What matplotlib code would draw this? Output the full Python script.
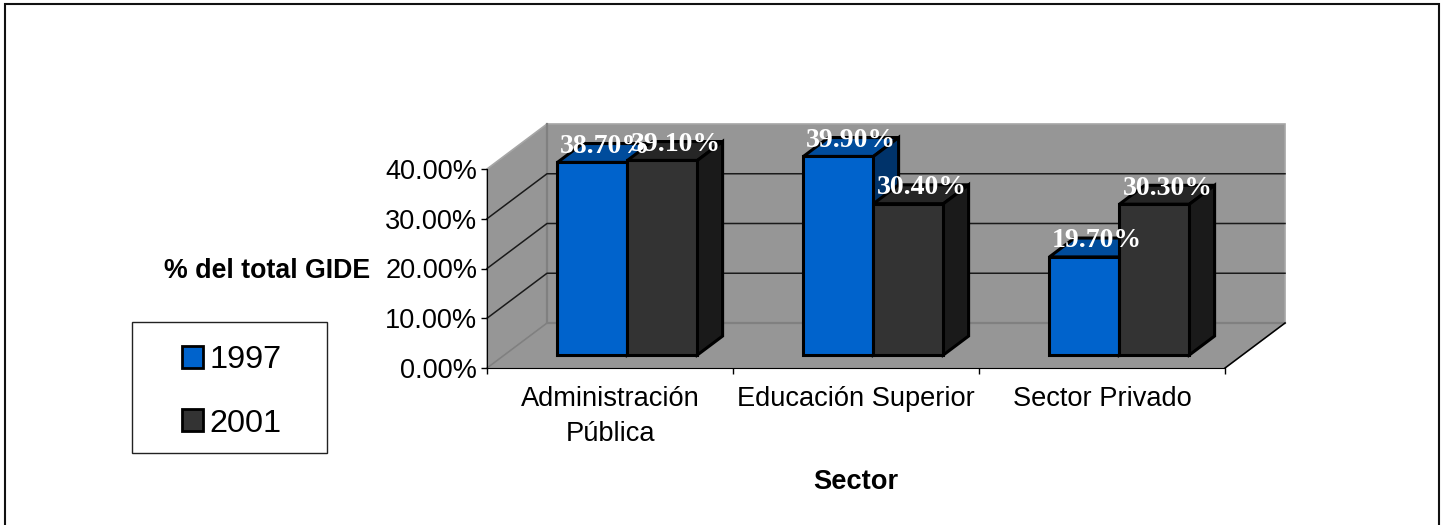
"""Grouped pseudo-3D bar chart of GIDE share by sector."""

import matplotlib

matplotlib.use("Agg", force=True)
import matplotlib.pyplot as plt
from matplotlib.patches import Patch, Polygon, Rectangle

categories = ["Administración\nPública", "Educación Superior", "Sector Privado"]
years = ["1997", "2001"]
values_1997 = [38.7, 39.9, 19.7]
values_2001 = [39.1, 30.4, 30.3]
y_ticks = [0, 10, 20, 30, 40]

FRONT = ["#0063CC", "#333333"]
TOP = ["#004C9C", "#262626"]
SIDE = ["#00336A", "#1A1A1A"]
WALL = "#969696"
WALL_EDGE = "#808080"

W, H = 1445, 525
X0, X1, Y0, Y1 = 487, 1225, 368, 169
# depth of the box, in data units
DX = 60 / 246
DY = 45 / 4.975
BAR_W = 70 / 246
T0, T1 = 0.29, 0.71

plt.rcParams["font.family"] = ["Liberation Sans", "DejaVu Sans"]

fig = plt.figure(figsize=(W / 100, H / 100), dpi=100)
# the outer frame runs off the bottom of the picture
fig.patches.append(Rectangle((5 / W, -10 / H), 1434 / W, (10 + H - 4) / H,
                             transform=fig.transFigure, fill=False, ec="#111111", lw=1.5))
ax = fig.add_axes([X0 / W, 1 - Y0 / H, (X1 - X0) / W, (Y0 - Y1) / H])
ax.set_xlim(0, 3)
ax.set_ylim(0, 40)
ax.patch.set_visible(False)


def p(x, v, t):
    return (x + t * DX, v + t * DY)


def poly(points, fc, ec, lw, z):
    ax.add_patch(Polygon(points, closed=True, fc=fc, ec=ec, lw=lw, zorder=z,
                         clip_on=False, joinstyle="miter"))


# walls and floor
poly([p(0, 0, 1), p(3, 0, 1), p(3, 40, 1), p(0, 40, 1)], WALL, "#A6A6A6", 1.2, 1)
poly([p(0, 0, 0), p(0, 0, 1), p(0, 40, 1), p(0, 40, 0)], WALL, "#A6A6A6", 1.2, 1)
poly([p(0, 0, 0), p(3, 0, 0), p(3, 0, 1), p(0, 0, 1)], WALL, WALL, 1.2, 1)
xs, ys = zip(p(0, 40, 1), p(0, 0, 1), p(3, 0, 1))
ax.plot(xs, ys, color=WALL_EDGE, lw=1.6, zorder=1.5, clip_on=False)
xs, ys = zip(p(0, 0, 0), p(0, 0, 1))
ax.plot(xs, ys, color=WALL_EDGE, lw=1.2, zorder=1.5, clip_on=False)
for v in y_ticks[1:-1]:
    xs, ys = zip(p(0, v, 0), p(0, v, 1), p(3, v, 1))
    ax.plot(xs, ys, color="#1A1A1A", lw=1.1, zorder=2, clip_on=False)
xs, ys = zip(p(3, 0, 0), p(3, 0, 1))
ax.plot(xs, ys, color="black", lw=1.1, zorder=2, clip_on=False)

# bars, left to right so that later faces cover earlier ones
z = 3
for i in range(len(categories)):
    for s, vals in enumerate([values_1997, values_2001]):
        v = vals[i]
        left = i + 0.5 + (s - 1) * BAR_W
        right = left + BAR_W
        poly([p(left, v, T0), p(right, v, T0), p(right, v, T1), p(left, v, T1)], TOP[s], "black", 2.2, z)
        poly([p(right, 0, T0), p(right, 0, T1), p(right, v, T1), p(right, v, T0)], SIDE[s], "black", 2.2, z)
        ax.bar(left + T0 * DX, v, BAR_W, bottom=T0 * DY, align="edge", color=FRONT[s],
               edgecolor="black", linewidth=2.2, zorder=z, clip_on=False)
        z += 1

# value labels sit above everything
for s, vals in enumerate([values_1997, values_2001]):
    for i, v in enumerate(vals):
        cx = i + 0.5 + (s - 0.5) * BAR_W + (0.004 if s else 0)
        x, y = p(cx, v, 0.5)
        ax.text(x, y, f"{v:.2f}%", ha="center", va="baseline", color="white", fontsize=20,
                fontweight="bold", family=["Liberation Serif"], zorder=50, clip_on=False)

ax.spines["top"].set_visible(False)
ax.spines["right"].set_visible(False)
ax.spines["left"].set_zorder(2.5)
ax.spines["bottom"].set_zorder(2.5)
ax.set_yticks(y_ticks)
ax.set_yticklabels([f"{v:.2f}%" for v in y_ticks])
ax.set_xticks(range(4))
ax.set_xticklabels([])
ax.set_xticks([i + 0.5 for i in range(3)], labels=categories, minor=True)
ax.tick_params(axis="x", which="major", length=4, width=1)
ax.tick_params(axis="x", which="minor", length=0, pad=13, labelsize=19.6)
ax.tick_params(axis="y", length=4, width=1, pad=3, labelsize=19.5)
for lab in ax.get_xticklabels(minor=True):
    lab.set_linespacing(1.44)

ax.set_ylabel("% del total GIDE", rotation=0, ha="center", va="center", fontsize=19.3, fontweight="bold")
ax.yaxis.set_label_coords((267 - X0) / (X1 - X0), (Y0 - 271.5) / (Y0 - Y1))
ax.set_xlabel("Sector", fontsize=19.6, fontweight="bold")
ax.xaxis.set_label_coords(0.5, (Y0 - 482) / (Y0 - Y1), transform=ax.transAxes)
ax.xaxis.label.set_va("center")

fig.patches.append(Rectangle((132 / W, 1 - 453 / H), 195 / W, 131 / H, transform=fig.transFigure,
                             fc="white", ec="#222222", lw=1))
handles = [Patch(fc=FRONT[0], ec="black", lw=2), Patch(fc=FRONT[1], ec="black", lw=2)]
fig.legend(handles, years, loc="center", bbox_to_anchor=(232 / W, 1 - 392 / H), frameon=False,
           fontsize=23.3, handlelength=0.66, handleheight=0.66, handletextpad=0.2, labelspacing=1.025)

fig.savefig("out.png", dpi=100)
plt.close(fig)
